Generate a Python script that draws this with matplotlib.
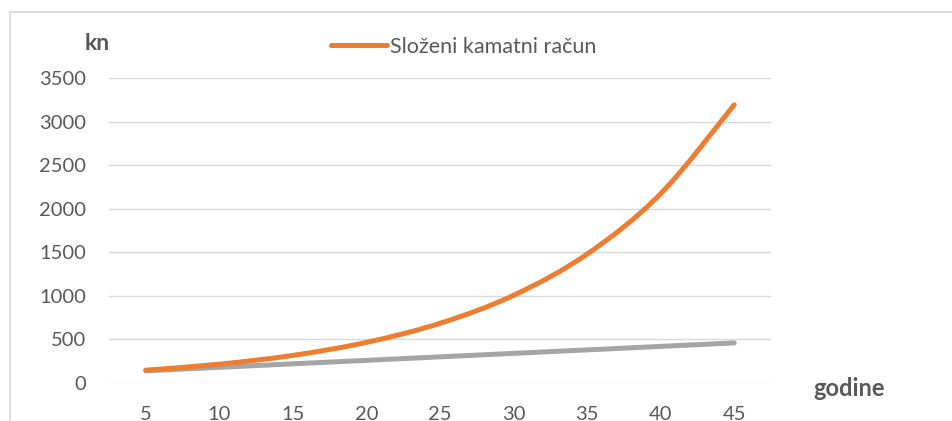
import matplotlib.pyplot as plt
from matplotlib.lines import Line2D
from matplotlib.path import Path
from matplotlib.patches import PathPatch

godine = [5, 10, 15, 20, 25, 30, 35, 40, 45]
slozeni = [147, 216, 317, 466, 685, 1006, 1479, 2172, 3192]
jednostavni = [140, 180, 220, 260, 300, 340, 380, 420, 460]
y_ticks = [0, 500, 1000, 1500, 2000, 2500, 3000, 3500]

txt = '#595959'
plt.rcParams['font.family'] = ['Lato', 'DejaVu Sans']


def smooth_path(x, y):
    # Excel-style smoothed line: cubic Bezier through each point (Catmull-Rom)
    verts = [(x[0], y[0])]
    codes = [Path.MOVETO]
    n = len(x)
    for i in range(n - 1):
        x0, y0 = (x[i - 1], y[i - 1]) if i > 0 else (x[i], y[i])
        x3, y3 = (x[i + 2], y[i + 2]) if i + 2 < n else (x[i + 1], y[i + 1])
        c1 = (x[i] + (x[i + 1] - x0) / 6, y[i] + (y[i + 1] - y0) / 6)
        c2 = (x[i + 1] - (x3 - x[i]) / 6, y[i + 1] - (y3 - y[i]) / 6)
        verts += [c1, c2, (x[i + 1], y[i + 1])]
        codes += [Path.CURVE4] * 3
    return Path(verts, codes)


W, H = 952, 421
fig = plt.figure(figsize=(W / 100, H / 100), dpi=100)
ax = fig.add_axes([109 / W, 1 - 383 / H, (771 - 109) / W, (383 - 78) / H])

for vals, col, z in [(jednostavni, '#A5A5A5', 3), (slozeni, '#ED7D31', 4)]:
    ax.add_patch(PathPatch(smooth_path(godine, vals), facecolor='none', edgecolor=col,
                           lw=3.6, capstyle='round', joinstyle='round', zorder=z))

ax.set_xlim(2.5, 47.5)
ax.set_ylim(0, 3500)
ax.set_yticks(y_ticks)
ax.set_xticks(godine)
ax.grid(axis='y', color='#d9d9d9', lw=1.0)
ax.set_axisbelow(True)
for s in ax.spines.values():
    s.set_visible(False)
ax.tick_params(axis='both', length=0, labelsize=14.5, colors=txt)
ax.tick_params(axis='y', pad=16.5)
ax.tick_params(axis='x', pad=16.5)

# chart frame (left and top edges visible)
fig.add_artist(Line2D([10 / W, 10 / W], [0, 1 - 12 / H], transform=fig.transFigure,
                      color='#d9d9d9', lw=1.2))
fig.add_artist(Line2D([10 / W, 1], [1 - 12 / H, 1 - 12 / H], transform=fig.transFigure,
                      color='#d9d9d9', lw=1.2))

fig.text(97 / W, 1 - 43 / H, 'kn', ha='center', va='center', fontsize=16.5,
         fontweight='bold', color=txt)
fig.text(849 / W, 1 - 389 / H, 'godine', ha='center', va='center', fontsize=17,
         fontweight='bold', color=txt)

h = Line2D([], [], color='#ED7D31', lw=3.6, solid_capstyle='round')
fig.legend([h], ['Složeni kamatni račun'], loc='center', bbox_to_anchor=(464 / W, 1 - 47 / H),
           frameon=False, fontsize=15.5, labelcolor=txt, handlelength=2.6, handletextpad=0.15)

fig.savefig('out.png', dpi=100)
